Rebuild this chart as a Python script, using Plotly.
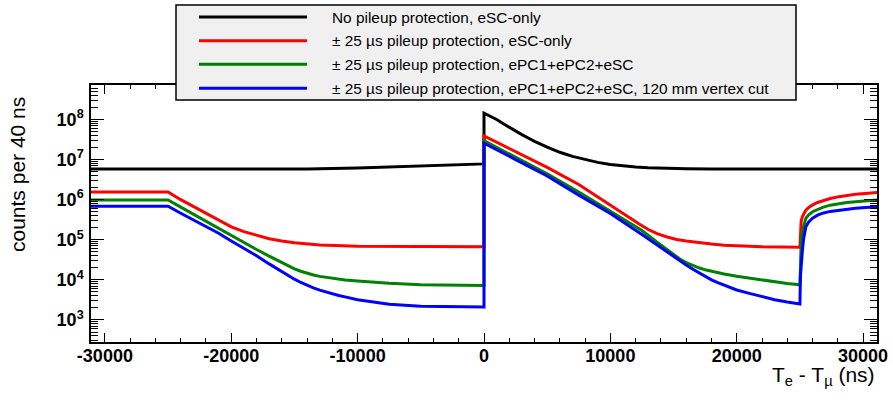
import plotly.graph_objects as go

# ---------------- data: counts per 40 ns bin vs. T_e - T_mu (ns) ----------------
t_nopileup = [-31100, -14000, -10000, -7000, -4000, 0,
              0, 500, 1000, 1500, 2000, 2500, 3000, 3500, 4000, 5000, 6000, 7000, 8000,
              9000, 10000, 11000, 12000, 13000, 14000, 16000, 18000, 31100]
n_nopileup = [5.8e6, 5.8e6, 6.2e6, 6.7e6, 7.2e6, 7.8e6,
              1.43e8, 1.2e8, 1.0e8, 7.9e7, 6.3e7, 5.1e7, 4.2e7, 3.45e7, 2.85e7, 2.05e7,
              1.52e7, 1.2e7, 9.9e6, 8.5e6, 7.5e6, 6.9e6, 6.5e6, 6.25e6, 6.05e6, 5.9e6,
              5.8e6, 5.8e6]

t_esc = [-31100, -25000, -24000, -23000, -22000, -21000, -20000, -19000, -18000,
         -17000, -16000, -15000, -13000, -11500, -10000, -5000, 0,
         0, 2500, 5000, 7500, 8750, 10000, 10750, 11500, 12250, 13000, 13750, 14500,
         15250, 16000, 17000, 18000, 19000, 20000, 22000, 25000,
         25040, 25100, 25200, 25300, 25470, 25700, 26000, 26400, 26800, 27400, 28100,
         28700, 29400, 30200, 31100]
n_esc = [1.56e6, 1.56e6, 1.0e6, 6.7e5, 4.5e5, 3.1e5, 2.09e5, 1.6e5, 1.28e5,
         1.06e5, 9.3e4, 8.4e4, 7.4e4, 7.1e4, 6.9e4, 6.8e4, 6.7e4,
         3.9e7, 1.6e7, 6.4e6, 2.4e6, 1.32e6, 7.3e5, 5.0e5, 3.6e5, 2.5e5, 1.8e5, 1.4e5,
         1.17e5, 1.02e5, 9.3e4, 8.4e4, 7.8e4, 7.3e4, 7.0e4, 6.7e4, 6.5e4,
         2.2e5, 2.9e5, 3.8e5, 4.5e5, 5.5e5, 6.4e5, 7.4e5, 8.5e5, 9.4e5, 1.07e6, 1.19e6,
         1.28e6, 1.36e6, 1.43e6, 1.5e6]

t_epc = [-31100, -25000, -24000, -23000, -22000, -21000, -20000, -19000, -18000,
         -17000, -16000, -15500, -15000, -14500, -14000, -13500, -13000, -12000,
         -11000, -10000, -7500, -5000, 0,
         0, 2500, 5000, 7500, 10000, 12500, 13750, 15000, 15500, 16000, 16500, 17000,
         17500, 18000, 18500, 19000, 20000, 21000, 22000, 23000, 24000, 25000,
         25040, 25100, 25200, 25300, 25470, 25700, 26000, 26400, 26800, 27400, 28100,
         28700, 29400, 30200, 31100]
n_epc = [9.8e5, 9.8e5, 6.5e5, 4.3e5, 2.9e5, 1.9e5, 1.25e5, 8.3e4, 5.7e4,
         3.9e4, 2.7e4, 2.24e4, 1.88e4, 1.64e4, 1.46e4, 1.32e4, 1.22e4, 1.08e4,
         9.9e3, 9.4e3, 8.2e3, 7.6e3, 7.2e3,
         2.96e7, 1.15e7, 4.4e6, 1.55e6, 5.2e5, 1.7e5, 8.5e4, 4.27e4, 3.3e4, 2.7e4,
         2.3e4, 2.0e4, 1.78e4, 1.62e4, 1.5e4, 1.4e4, 1.23e4, 1.1e4, 9.9e3, 8.9e3,
         8.1e3, 7.5e3,
         5.0e4, 9.0e4, 1.45e5, 2.2e5, 3.44e5, 4.2e5, 5.0e5, 5.8e5, 6.45e5, 7.3e5, 8.1e5,
         8.5e5, 8.9e5, 9.4e5, 9.8e5]

t_vtx = [-31100, -25000, -24000, -23000, -22000, -21000, -20000, -19000, -18000,
         -17000, -16000, -15500, -15000, -14500, -14000, -13500, -13000, -12500,
         -12000, -11500, -11000, -10000, -7500, -5000, 0,
         0, 2500, 5000, 7500, 10000, 12500, 13750, 15000, 15500, 16000, 16500, 17000,
         17500, 18000, 18500, 19000, 20000, 21000, 22000, 23000, 24000, 25000,
         25040, 25100, 25200, 25300, 25470, 25700, 26000, 26400, 26800, 27400, 28100,
         28700, 29400, 30200, 31100]
n_vtx = [6.9e5, 6.9e5, 4.6e5, 3.1e5, 2.1e5, 1.45e5, 9.3e4, 6.2e4, 4.0e4,
         2.5e4, 1.58e4, 1.27e4, 1.04e4, 8.6e3, 7.3e3, 6.3e3, 5.55e3, 4.95e3,
         4.47e3, 4.07e3, 3.76e3, 3.2e3, 2.45e3, 2.2e3, 2.1e3,
         2.55e7, 1.0e7, 3.9e6, 1.3e6, 4.5e5, 1.35e5, 7.1e4, 3.8e4, 2.95e4, 2.35e4,
         1.86e4, 1.5e4, 1.22e4, 1.0e4, 8.5e3, 7.3e3, 5.6e3, 4.6e3, 3.8e3, 3.2e3,
         2.8e3, 2.5e3,
         1.2e4, 2.5e4, 5.6e4, 1.1e5, 2.1e5, 2.8e5, 3.44e5, 4.1e5, 4.6e5, 5.1e5, 5.5e5,
         5.8e5, 6.1e5, 6.4e5, 6.7e5]

legend_labels = [
    "No pileup protection, eSC-only",
    "\u00b1 25 \u00b5s pileup protection, eSC-only",
    "\u00b1 25 \u00b5s pileup protection, ePC1+ePC2+eSC",
    "\u00b1 25 \u00b5s pileup protection, ePC1+ePC2+eSC, 120 mm vertex cut",
]
colors = ["#000000", "#ff0000", "#008000", "#0000ff"]

x_tick_vals = [-30000, -20000, -10000, 0, 10000, 20000, 30000]
x_tick_text = ["-30000", "-20000", "-10000", "0", "10000", "20000", "30000"]
y_tick_vals = [1e3, 1e4, 1e5, 1e6, 1e7, 1e8]
y_tick_text = ["10<sup>3</sup>", "10<sup>4</sup>", "10<sup>5</sup>",
               "10<sup>6</sup>", "10<sup>7</sup>", "10<sup>8</sup>"]

# ---------------- figure ----------------
W, H = 893, 405
ML, MR, MT, MB = 91, 16, 85, 63
PW, PH = W - ML - MR, H - MT - MB
FONT = "Liberation Sans, Arial, Helvetica, sans-serif"


def px(x):
    return (x - ML) / PW


def py(y):
    return (H - MB - y) / PH


fig = go.Figure()
series = [(t_nopileup, n_nopileup), (t_esc, n_esc), (t_epc, n_epc), (t_vtx, n_vtx)]
for (t, n), c, name in zip(series, colors, legend_labels):
    fig.add_trace(go.Scatter(x=t, y=n, mode="lines", name=name,
                             line=dict(color=c, width=3), showlegend=False))

y_minor = [k * 10 ** d for d in range(2, 9) for k in range(2, 10)]

fig.update_layout(
    width=W, height=H,
    margin=dict(l=ML, r=MR, t=MT, b=MB),
    paper_bgcolor="white", plot_bgcolor="white",
    font=dict(family=FONT, color="black"),
    xaxis=dict(
        range=[-31100, 31100], showgrid=False, zeroline=False, automargin=False,
        showline=True, linecolor="black", linewidth=1.5, mirror="ticks",
        ticks="inside", ticklen=9, tickwidth=1, tickcolor="black",
        tickmode="array", tickvals=x_tick_vals, ticktext=x_tick_text,
        tickfont=dict(size=18, weight="bold", family=FONT),
        ticklabelstandoff=-3,
        minor=dict(ticks="inside", ticklen=4, tickwidth=1, tickcolor="black",
                   tick0=0, dtick=2000, showgrid=False),
    ),
    yaxis=dict(
        type="log", range=[2.45, 8.86], showgrid=False, zeroline=False, automargin=False,
        showline=True, linecolor="black", linewidth=1.5, mirror="ticks",
        ticks="inside", ticklen=13, tickwidth=1, tickcolor="black",
        tickmode="array", tickvals=y_tick_vals, ticktext=y_tick_text,
        tickfont=dict(size=18, weight="bold", family=FONT),
        ticklabelstandoff=2,
        minor=dict(ticks="inside", ticklen=7, tickwidth=1, tickcolor="black",
                   tickmode="array", tickvals=y_minor, showgrid=False),
    ),
)

# axis titles
fig.add_annotation(text="counts per 40 ns", textangle=-90, showarrow=False,
                   xref="paper", yref="paper", x=px(17), y=py(175),
                   xanchor="center", yanchor="middle",
                   font=dict(size=21, family=FONT, color="black"))
fig.add_annotation(text="T<sub>e</sub> - T<sub>\u00b5</sub> (ns)", showarrow=False,
                   xref="paper", yref="paper", x=px(877), y=py(376),
                   xanchor="right", yanchor="middle",
                   font=dict(size=21, family=FONT, color="black"))

# legend box
shapes = [dict(type="rect", xref="paper", yref="paper", layer="above",
               x0=px(176), x1=px(796), y0=py(100), y1=py(5),
               fillcolor="#f0f0f0", line=dict(color="black", width=1.5))]
row_y = [17, 40.7, 64.3, 88.3]
for yy, c, lab in zip(row_y, colors, legend_labels):
    shapes.append(dict(type="line", xref="paper", yref="paper", layer="above",
                       x0=px(199), x1=px(307), y0=py(yy), y1=py(yy),
                       line=dict(color=c, width=3)))
    fig.add_annotation(text=lab, showarrow=False, xref="paper", yref="paper",
                       x=px(330), y=py(yy), xanchor="left", yanchor="middle",
                       font=dict(size=15.4, family=FONT, color="black"))
fig.update_layout(shapes=shapes)

fig.write_html("out.html")
